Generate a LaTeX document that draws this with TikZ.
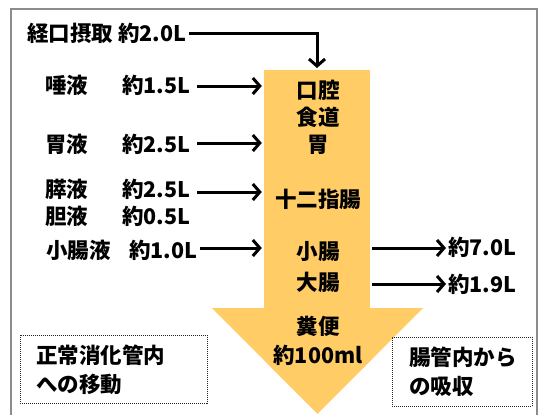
\documentclass[tikz,border=0pt]{standalone}
\usepackage{fontspec}
\setmainfont{Noto Sans CJK JP}
\usetikzlibrary{arrows.meta,calc}
\definecolor{flowfill}{RGB}{255,204,102}
\definecolor{framegray}{RGB}{140,140,140}
\tikzset{
  txt/.style={font=\bfseries\fontsize{21.5}{24}\selectfont, inner sep=0pt},
  lbl/.style={txt, anchor=west},
  midtxt/.style={txt, align=center},
  flow/.style={line width=3pt, -{Straight Barb[length=7pt,width=16pt,line width=3pt]}},
  dotbox/.style={draw=black!85, line width=0.9pt, dash pattern=on 1pt off 1pt,
    font=\bfseries\fontsize{21.5}{29}\selectfont, align=left, anchor=north west, inner ysep=0pt},
}
\begin{document}
\begin{tikzpicture}[x=1pt,y=-1pt]
\path[use as bounding box] (0,0) rectangle (541,415);
\clip (0,0) rectangle (541,415);
\draw[framegray, line width=2pt] (10.5,8.5) rectangle (536.5,440);

% big arrow
\node[fill=flowfill, minimum width=106pt, minimum height=240pt, inner sep=0pt, anchor=north] (shaft) at (317,70) {};
\fill[flowfill] (264,308) -- (212,308) -- (317.5,414) -- (423,308) -- (370,308) -- cycle;
\coordinate (tip) at (317.5,414);

% left inputs
\node[lbl] (in0) at (27,33) {経口摂取\hspace{5pt}約2.0L};
\node[lbl] (n1) at (45,85) {唾液};
\node[lbl] (v1) at (122,85) {約1.5L};
\node[lbl] (n2) at (45,144) {胃液};
\node[lbl] (v2) at (122,144) {約2.5L};
\node[lbl] (n3) at (45,189) {膵液};
\node[lbl] (v3) at (122,189) {約2.5L};
\node[lbl] (n4) at (45,216) {胆液};
\node[lbl] (v4) at (122,216) {約0.5L};
\node[lbl] (n5) at (46,250) {小腸液};
\node[lbl] (v5) at (129,250) {約1.0L};

% middle texts
\node[midtxt, font=\bfseries\fontsize{21.5}{27}\selectfont] (m1) at (318,117) {口腔\\食道\\胃};
\node[midtxt] (m2) at (318,199) {十二指腸};
\node[midtxt, font=\bfseries\fontsize{21.5}{31}\selectfont] (m3) at (318,267) {小腸\\大腸};
\node[midtxt, font=\bfseries\fontsize{21.5}{29}\selectfont] (m4) at (318,341) {糞便\\約100ml};

% right outputs
\node[lbl] (r1) at (448,247) {約7.0L};
\node[lbl] (r2) at (448,284) {約1.9L};

% connectors
\draw[flow] ($(in0.east)+(3,0)$) -- (in0.east -| shaft.north) -- ($(shaft.north)+(0,-2)$);
\draw[flow] ($(v1.east)+(7,1)$) -- ($(v1.east -| shaft.west)+(-2,1)$);
\draw[flow] ($(v2.east)+(7,-1)$) -- ($(v2.east -| shaft.west)+(-2,-1)$);
\draw[flow] ($(v3.east)+(7,3)$) -- ($(v3.east -| shaft.west)+(-2,3)$);
\draw[flow] ($(v5.east)+(3,-2)$) -- ($(v5.east -| shaft.west)+(-2,-2)$);
\draw[flow] ($(shaft.east |- r1.west)+(2,1)$) -- ($(r1.west)+(-2,1)$);
\draw[flow] ($(shaft.east |- r2.west)+(2,0)$) -- ($(r2.west)+(-2,0)$);

% dotted boxes
\node[dotbox, minimum width=187pt, minimum height=68pt, text width=155pt, inner xsep=16pt] (b1) at (20,335) {正常消化管内\\への移動};
\node[dotbox, minimum width=140pt, minimum height=69pt, text width=106pt, inner xsep=17pt] (b2) at (392,337) {腸管内から\\の吸収};
\end{tikzpicture}
\end{document}
